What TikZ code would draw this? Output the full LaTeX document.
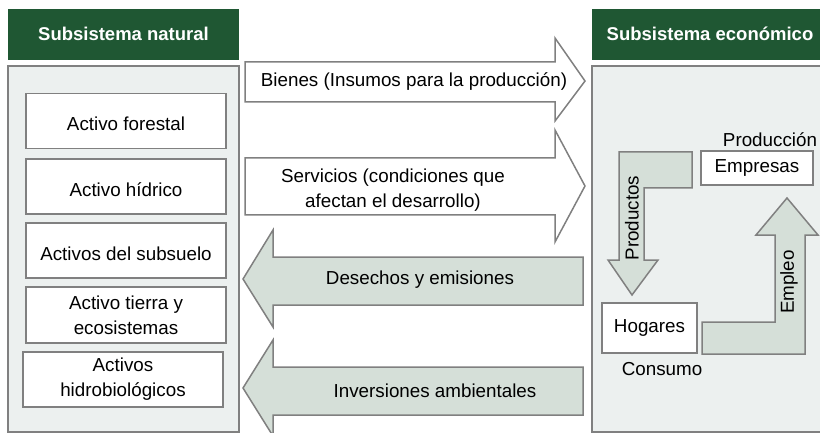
\documentclass[tikz,border=0pt]{standalone}
\usepackage{fontspec}
\setmainfont{Liberation Sans}
\usetikzlibrary{positioning}
\definecolor{VerdeOscuro}{RGB}{31,87,51}
\definecolor{GrisPanel}{RGB}{236,240,239}
\definecolor{SalviaClaro}{RGB}{213,223,216}
\definecolor{GrisBorde}{RGB}{128,128,128}

\begin{document}
\begin{tikzpicture}[x=1pt, y=-1pt,
    every node/.style={font=\fontsize{18.8}{25}\selectfont, align=center},
    cabecera/.style={fill=VerdeOscuro, text=white, font=\fontsize{18.5}{22}\selectfont\bfseries},
    panel/.style={fill=GrisPanel, draw=GrisBorde, line width=1.5pt},
    activo/.style={draw=GrisBorde, fill=white, line width=1.3pt, minimum width=200pt, minimum height=55pt, text height=20pt, text depth=0pt},
    activodos/.style={draw=GrisBorde, fill=white, line width=1.3pt, minimum width=200pt, minimum height=55pt},
    flechablanca/.style={draw=GrisBorde, fill=white, line width=1.5pt, line join=miter},
    flechasalvia/.style={draw=GrisBorde, fill=SalviaClaro, line width=1.5pt, line join=miter}]
    \useasboundingbox (0,0) rectangle (820,433);

    % Subsistema natural
    \fill[cabecera] (8,9) rectangle (239,60);
    \node[text=white, font=\fontsize{18.5}{22}\selectfont\bfseries] (natural) at (123.5,34) {Subsistema natural};
    \draw[panel] (8,66) rectangle (239,432);
    \node[activo] (forestal) at (126,121) {Activo forestal};
    \node[activo] (hidrico) at (126,186.5) {Activo h\'idrico};
    \node[activo] (subsuelo) at (126,250.5) {Activos del subsuelo};
    \node[activodos, minimum height=56pt] (tierra) at (126,315) {Activo tierra y\\ecosistemas};
    \node[activodos] (hidrobio) at (123,379.5) {Activos\\hidrobiol\'ogicos};

    % Subsistema econ\'omico
    \fill[cabecera] (592,9) rectangle (830,60);
    \node[text=white, font=\fontsize{18.5}{22}\selectfont\bfseries] (economico) at (710,34) {Subsistema econ\'omico};
    \draw[panel] (592,66) rectangle (830,432);

    % Flujos hacia la econom\'ia
    \draw[flechablanca] (245,62) -- (555,62) -- (555,38) -- (585,81) -- (555,121) -- (555,102) -- (245,102) -- cycle;
    \node (bienes) at (414,82) {Bienes (Insumos para la producci\'on)};
    \draw[flechablanca] (245,158) -- (555,158) -- (555,130) -- (585,186) -- (555,242) -- (555,215) -- (245,215) -- cycle;
    \node (servicios) at (393,190) {Servicios (condiciones que\\afectan el desarrollo)};

    % Flujos hacia la naturaleza
    \draw[flechasalvia] (583,257) -- (273,257) -- (273,230) -- (243,279) -- (273,327) -- (273,305) -- (583,305) -- cycle;
    \node (desechos) at (420,280) {Desechos y emisiones};
    \draw[flechasalvia] (583,367) -- (273,367) -- (273,340) -- (243,388) -- (273,436) -- (273,415) -- (583,415) -- cycle;
    \node (inversiones) at (435,391) {Inversiones ambientales};

    % Circuito econ\'omico
    \draw[flechasalvia] (619,152) -- (692,152) -- (692,188) -- (644,188) -- (644,260) -- (658,260) -- (632,295) -- (608,260) -- (619,260) -- cycle;
    \node[rotate=90] (productos) at (632,218) {Productos};
    \draw[flechasalvia] (702,322) -- (775,322) -- (775,235) -- (756,235) -- (787,198) -- (818,235) -- (805,235) -- (805,354) -- (702,354) -- cycle;
    \node[rotate=90] (empleo) at (789,282) {Empleo};
    \node[draw=GrisBorde, fill=white, line width=1.3pt, minimum width=112pt, minimum height=34pt] (empresas) at (757,168) {Empresas};
    \node (produccion) at (770,140) {Producci\'on};
    \node[draw=GrisBorde, fill=white, line width=1.3pt, minimum width=95pt, minimum height=50pt] (hogares) at (649.5,328) {Hogares};
    \node (consumo) at (662,369) {Consumo};
\end{tikzpicture}
\end{document}
